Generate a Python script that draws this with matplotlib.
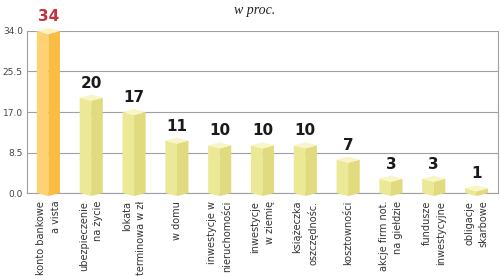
import numpy as np
import matplotlib
matplotlib.use("Agg")
import matplotlib.pyplot as plt

categories = ["konto bankowe\na vista", "ubezpieczenie\nna życie", "lokata\nterminowa w zł",
              "w domu", "inwestycje w\nnieruchomości", "inwestycje\nw ziemię",
              "książeczka\noszczędnośc.", "kosztowności", "akcje firm not.\nna giełdzie",
              "fundusze\ninwestycyjne", "obligacje\nskarbowe"]
values = [34, 20, 17, 11, 10, 10, 10, 7, 3, 3, 1]
yticks = [0.0, 8.5, 17.0, 25.5, 34.0]
title = "w proc."

fig = plt.figure(figsize=(5.0, 2.76), dpi=100)
ax = fig.add_axes([0.054, 0.3007, 0.942, 0.587])
ax.set_xlim(-0.5, len(values) - 0.5)
ax.set_ylim(0, 34)

hw = 0.27      # half width of bar
d = 0.65       # depth of cap (data units)
for i, v in enumerate(values):
    if i == 0:
        cl, cr, ct = "#fcd274", "#f8bd42", "#fff3c4"
    else:
        cl, cr, ct = "#ece996", "#dfdb7e", "#f8f6c6"
    ax.fill([i - hw, i, i, i - hw], [0, -d, v - d, v], color=cl, lw=0, clip_on=False, zorder=3)
    ax.fill([i, i + hw, i + hw, i], [-d, 0, v, v - d], color=cr, lw=0, clip_on=False, zorder=3)
    ax.fill([i - hw, i, i + hw, i], [v, v - d, v, v + d], color=ct, lw=0, clip_on=False, zorder=3)
    ax.text(i, v + d + 0.8, str(v), ha="center", va="bottom", fontsize=11, fontweight="bold",
            color="#c8303a" if i == 0 else "#1a1a1a", zorder=4, clip_on=False)

ax.set_yticks(yticks)
ax.set_yticklabels([f"{t:.1f}" for t in yticks], fontsize=6.5, color="#444444")
ax.tick_params(axis="y", length=0, pad=3)
ax.grid(axis="y", color="#a0a0a0", lw=0.8, zorder=1)
ax.set_xticks(range(len(values)))
ax.set_xticklabels([])
ax.tick_params(axis="x", length=0)
for i, c in enumerate(categories):
    ax.text(i, -1.6, c, rotation=90, ha="center", va="top", multialignment="right",
            fontsize=7, color="#333333", linespacing=1.55, clip_on=False)

for s in ["left", "right"]:
    ax.spines[s].set_color("#a0a0a0")
    ax.spines[s].set_linewidth(0.8)
ax.spines["top"].set_visible(False)
ax.spines["bottom"].set_color("#a0a0a0")
ax.spines["bottom"].set_linewidth(0.8)

fig.text(0.51, 0.962, title, ha="center", va="center", fontsize=10, style="italic",
         family="Liberation Serif", color="#222222")

fig.savefig("out.png", dpi=100)
